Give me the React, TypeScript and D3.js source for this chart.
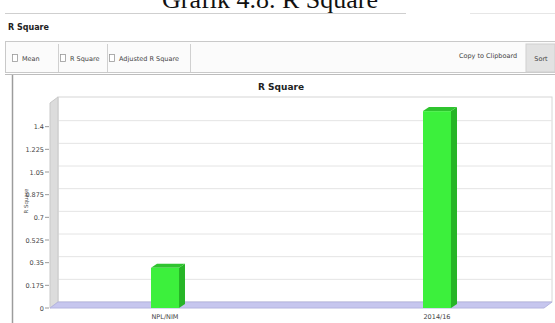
import React from "react";
import * as d3 from "d3";

// Chart data
const categories = ["NPL/NIM", "2014/16"];
const rSquareValues = [0.31, 1.52];
const yTickValues = [0, 0.175, 0.35, 0.525, 0.7, 0.875, 1.05, 1.225, 1.4];
const yTickLabels = ["0", "0.175", "0.35", "0.525", "0.7", "0.875", "1.05", "1.225", "1.4"];
const toolbarTabs = ["Mean", "R Square", "Adjusted R Square"];

const W = 555;
const H = 323;

// Plot geometry (front plane) and 3D depth of the walls
const plotLeft = 50;
const plotRight = 544;
const plotBottom = 308;
const depthX = 8;
const depthY = -6;
const barDepthX = 6;
const barDepthY = -4;
const barWidth = 28;

export default function App() {
  const x = d3.scalePoint<string>().domain(categories).range([60, 542]).padding(0.386);
  const y = d3.scaleLinear().domain([0, 1.575]).range([plotBottom, 104]);
  const wallTop = y(1.575) + depthY - 1;

  const tabX = [10, 58, 107];
  const tabW = [48, 49, 83];

  return (
    <svg
      width={W}
      height={H}
      style={{ position: "absolute", left: 0, top: 0, background: "#fff" }}
      fontFamily="'DejaVu Sans', Arial, sans-serif"
    >
      {/* document caption, partly cut at the top */}
      <text x={270} y={8} textAnchor="middle" fontFamily="'Liberation Serif', 'Times New Roman', serif" fontSize={26} fill="#111">
        Grafik 4.8. R Square
      </text>
      <line x1={5} x2={406} y1={13.5} y2={13.5} stroke="#cfcfcf" />
      <line x1={470} x2={555} y1={13.5} y2={13.5} stroke="#e6e6e6" />

      {/* panel header */}
      <text x={8} y={30} fontSize={8} fontWeight="bold" fill="#222">R Square</text>

      {/* toolbar */}
      <rect x={5.5} y={41.5} width={560} height={31} fill="#fbfbfb" stroke="#c9c9c9" />
      {toolbarTabs.map((t, i) => (
        <g key={t}>
          <rect x={tabX[i] + 2.5} y={54.5} width={5} height={7} fill="#fff" stroke="#9a9a9a" strokeWidth={0.8} />
          <text x={tabX[i] + 12} y={61} fontSize={6.5} fill="#444">{t}</text>
          <line x1={tabX[i] + tabW[i] + 0.5} x2={tabX[i] + tabW[i] + 0.5} y1={44} y2={72} stroke="#d0d0d0" />
        </g>
      ))}
      <text x={488} y={58} textAnchor="middle" fontSize={6.5} fill="#444">Copy to Clipboard</text>
      <rect x={526} y={44} width={29} height={28} fill="#e2e2e2" stroke="#cfcfcf" />
      <text x={541} y={61} textAnchor="middle" fontSize={6.5} fill="#444">Sort</text>

      {/* chart frame */}
      <line x1={5} x2={555} y1={74.5} y2={74.5} stroke="#bdbdbd" />
      <line x1={12.5} x2={12.5} y1={75} y2={H} stroke="#9c9c9c" strokeWidth={1.5} />

      {/* chart title */}
      <text x={281} y={90} textAnchor="middle" fontSize={9} fontWeight="bold" fill="#222">R Square</text>

      {/* back wall */}
      <rect x={plotLeft + depthX} y={wallTop} width={plotRight - plotLeft} height={plotBottom + depthY - wallTop}
        fill="#fff" stroke="#d6d6d6" />
      {/* back wall gridlines */}
      {yTickValues.slice(1).map((v) => (
        <line key={v} x1={plotLeft + depthX} x2={plotRight + depthX} y1={y(v) + depthY} y2={y(v) + depthY}
          stroke="#e4e4e4" />
      ))}
      {/* left wall */}
      <polygon
        points={[
          [plotLeft, wallTop - depthY],
          [plotLeft + depthX, wallTop],
          [plotLeft + depthX, plotBottom + depthY],
          [plotLeft, plotBottom],
        ].map((p) => p.join(",")).join(" ")}
        fill="#dcdcdc" stroke="#c8c8c8"
      />
      {/* floor */}
      <polygon
        points={[
          [plotLeft, plotBottom],
          [plotLeft + depthX, plotBottom + depthY],
          [plotRight + depthX, plotBottom + depthY],
          [plotRight, plotBottom],
        ].map((p) => p.join(",")).join(" ")}
        fill="#c6c6ee" stroke="#b4b4e0"
      />

      {/* y axis */}
      {yTickValues.map((v, i) => (
        <g key={v}>
          <line x1={45} x2={49} y1={y(v)} y2={y(v)} stroke="#999" />
          <text x={44} y={y(v) + 2.5} textAnchor="end" fontSize={6.5} fill="#444">{yTickLabels[i]}</text>
        </g>
      ))}
      <text transform={`translate(28,201) rotate(-90)`} textAnchor="middle" fontSize={5.5} fill="#555">R Square</text>

      {/* bars */}
      {categories.map((c, i) => {
        const cx = x(c)!;
        const x0 = cx - barWidth / 2;
        const x1 = cx + barWidth / 2;
        const yt = y(rSquareValues[i]);
        const yb = y(0);
        return (
          <g key={c}>
            <polygon
              points={[[x1, yt], [x1 + barDepthX, yt + barDepthY], [x1 + barDepthX, yb + barDepthY], [x1, yb]]
                .map((p) => p.join(",")).join(" ")}
              fill="#27b527"
            />
            <polygon
              points={[[x0, yt], [x0 + barDepthX, yt + barDepthY], [x1 + barDepthX, yt + barDepthY], [x1, yt]]
                .map((p) => p.join(",")).join(" ")}
              fill="#2fc42f"
            />
            <rect x={x0} y={yt} width={barWidth} height={yb - yt} fill="#3cf03c" />
            <text x={cx} y={319} textAnchor="middle" fontSize={6.5} fill="#444">{c}</text>
          </g>
        );
      })}
    </svg>
  );
}
